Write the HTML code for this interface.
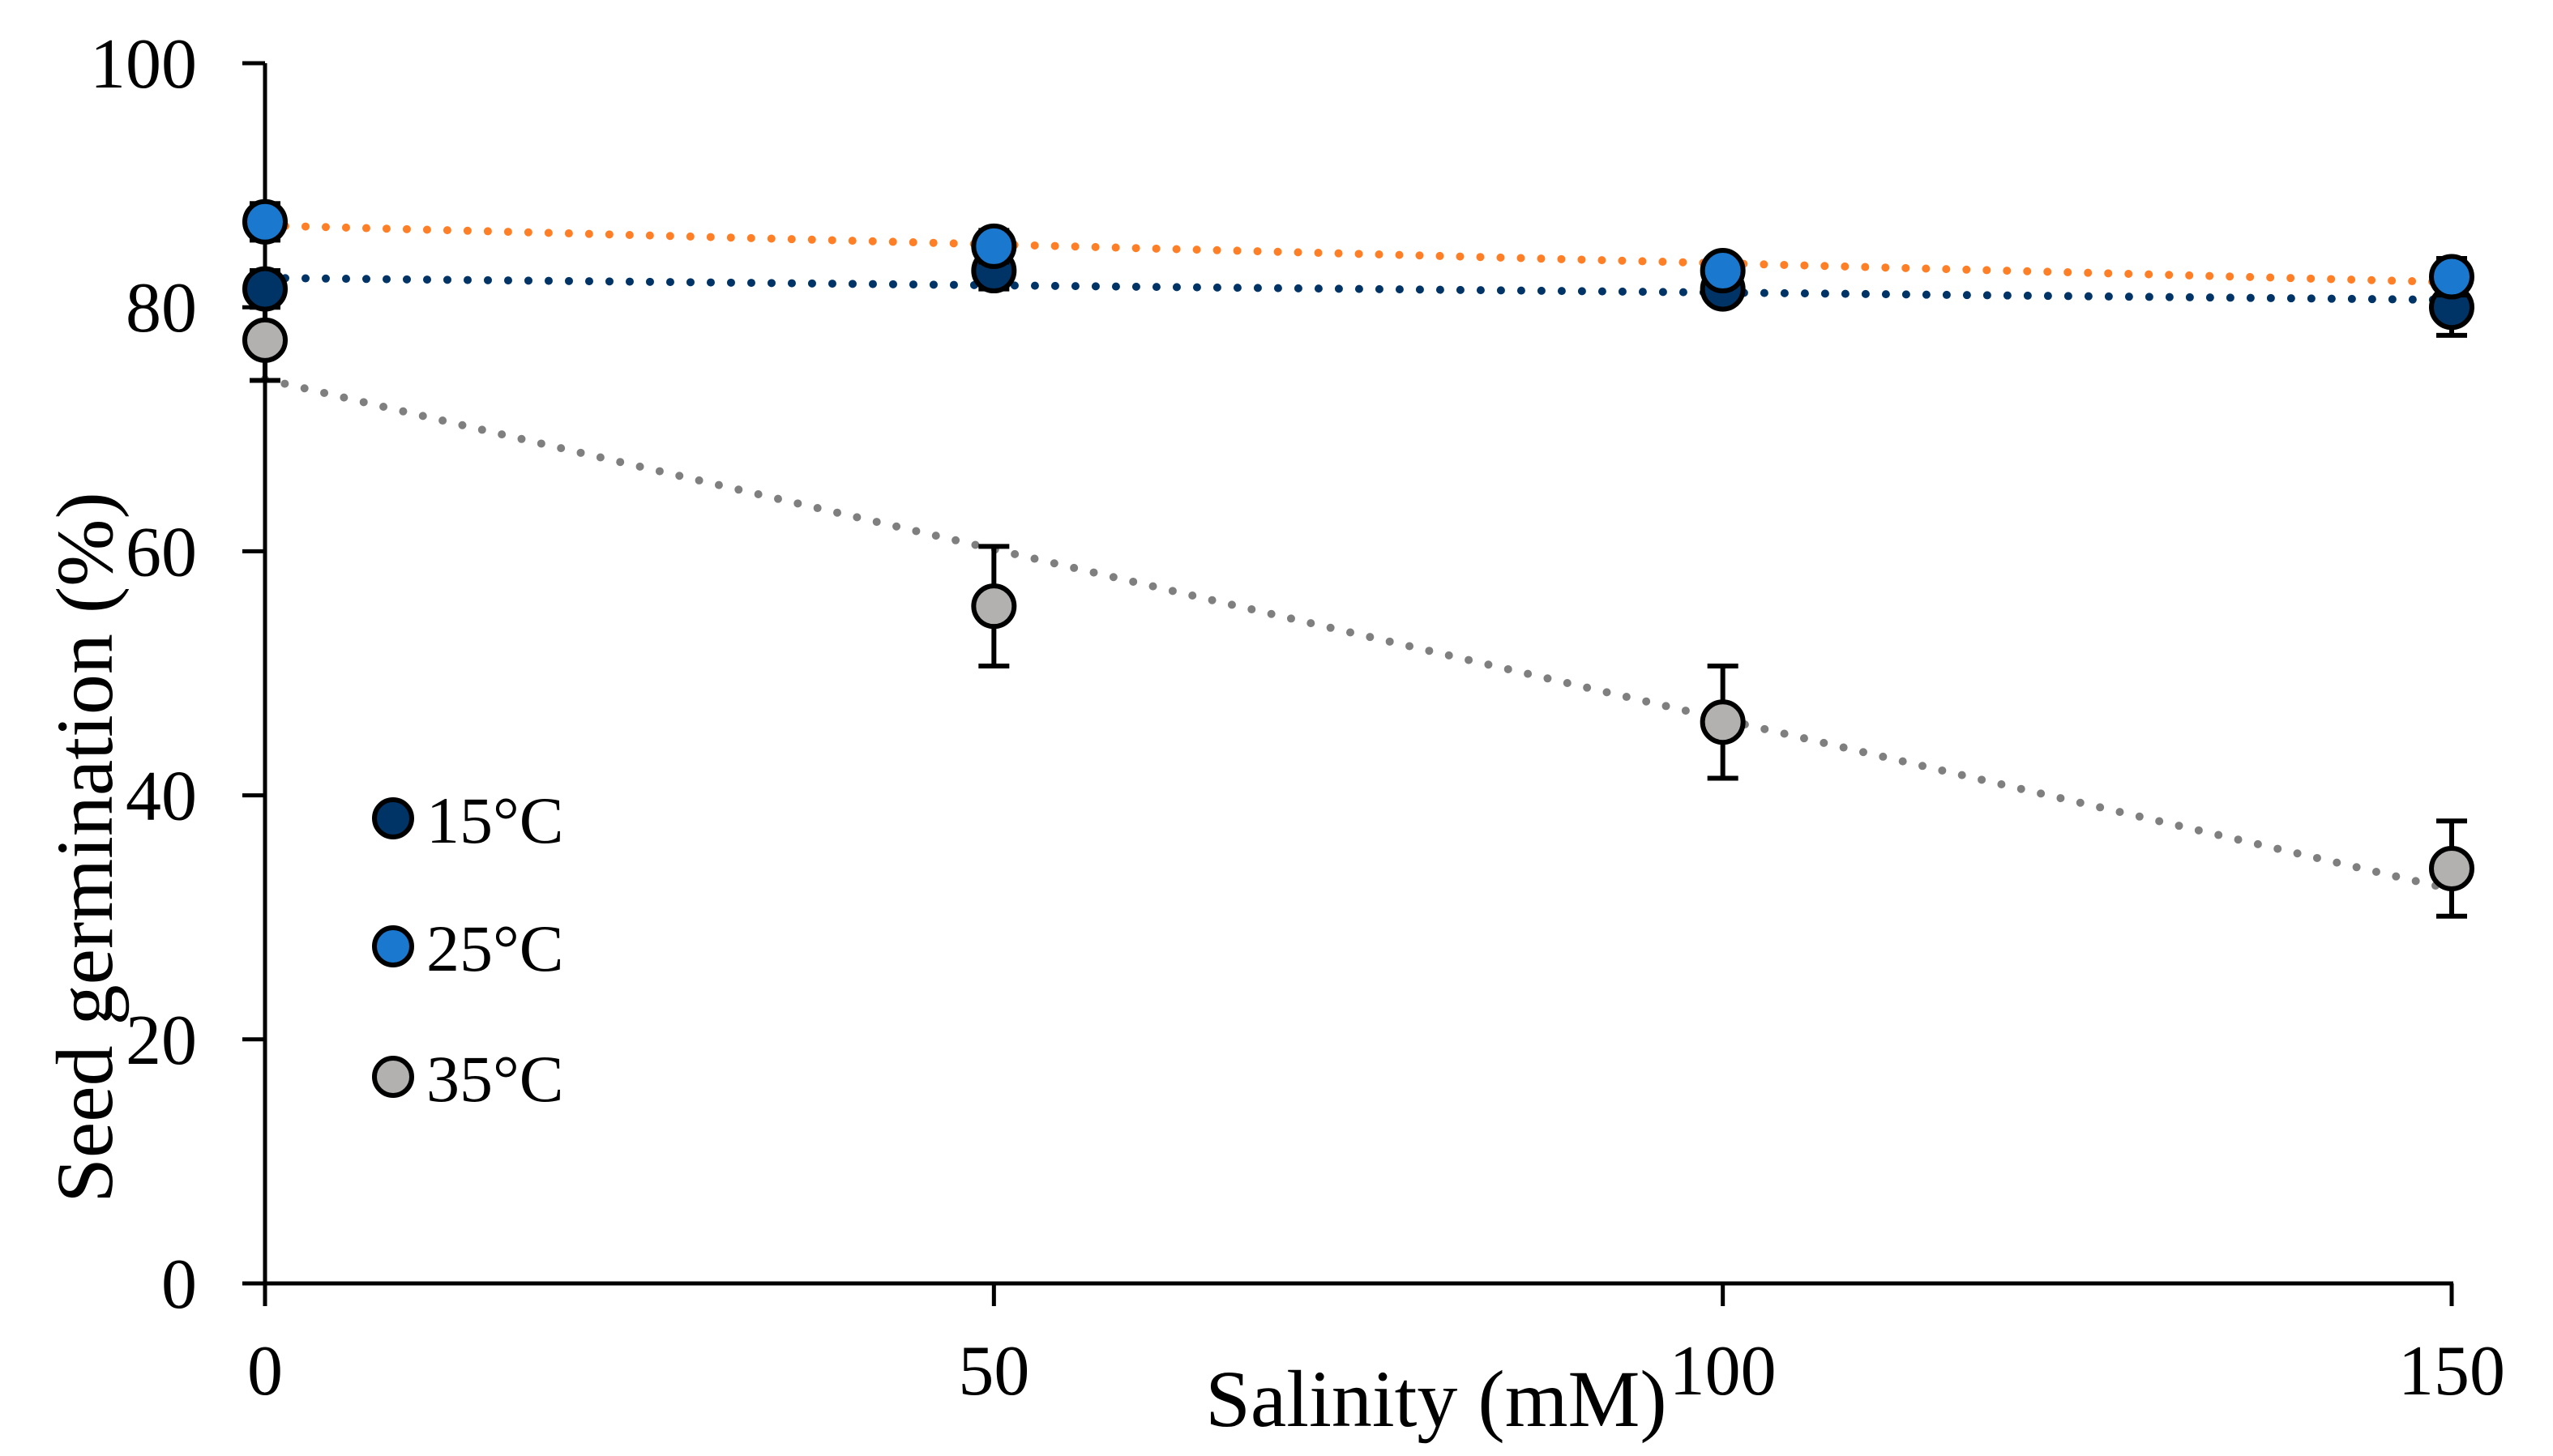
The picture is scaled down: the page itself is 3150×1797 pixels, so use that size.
<!DOCTYPE html>
<html><head><meta charset="utf-8"><style>
html,body{margin:0;padding:0;background:#fff;}
svg{display:block;font-family:"Liberation Serif","Times New Roman",serif;}
</style></head><body>
<svg id="chart" width="3150" height="1797" viewBox="0 0 3150 1797" xmlns="http://www.w3.org/2000/svg">
<g id="trends"></g>
<g id="axes"></g>
<g id="series"></g>
<g id="legend"></g>
</svg>
<script>
const salinity = [0, 50, 100, 150];
const germ15 = [81.5, 83, 81.5, 80];
const err15 = [1.5, 1.5, 1.2, 2.3];
const germ25 = [87, 85, 83, 82.5];
const err25 = [1.5, 1.3, 1.0, 1.5];
const germ35 = [77.3, 55.5, 46, 34];
const err35 = [3.3, 4.9, 4.6, 3.9];
const xTicks = [0, 50, 100, 150];
const yTicks = [0, 20, 40, 60, 80, 100];
const seriesNames = ["15°C", "25°C", "35°C"];

const NS = "http://www.w3.org/2000/svg";
const X0 = 327, X1 = 3025, Y0 = 1584, Y1 = 78;
const xs = v => X0 + (v - 0) / 150 * (X1 - X0);
const ys = v => Y0 - v / 100 * (Y0 - Y1);
function mk(tag, attrs, parent, text) {
  const e = document.createElementNS(NS, tag);
  for (const k in attrs) e.setAttribute(k, attrs[k]);
  if (text !== undefined) e.textContent = text;
  parent.appendChild(e);
  return e;
}
const axes = document.getElementById('axes');
const series = document.getElementById('series');
const trends = document.getElementById('trends');
const legend = document.getElementById('legend');

let e = mk('line', {x1: X0, y1: Y1, x2: X0, y2: Y0, stroke: '#000', 'stroke-width': 5}, axes);


e = mk('line', {x1: X0 - 28, y1: Y0, x2: X1 + 2, y2: Y0, stroke: '#000', 'stroke-width': 5}, axes);


yTicks.forEach(t => {
  const tl = mk('line', {x1: X0 - 28, y1: ys(t), x2: X0, y2: ys(t), stroke: '#000', 'stroke-width': 5}, axes);
  
  
  const lb = mk('text', {x: 243, y: ys(t) + 30, 'text-anchor': 'end', 'font-size': 88}, axes, String(t));
  
  
});
xTicks.forEach(t => {
  const tl = mk('line', {x1: xs(t), y1: Y0, x2: xs(t), y2: Y0 + 28, stroke: '#000', 'stroke-width': 5}, axes);
  
  
  const lb = mk('text', {x: xs(t), y: 1721, 'text-anchor': 'middle', 'font-size': 88}, axes, String(t));
  
  
});
e = mk('text', {x: 1772, y: 1760, 'text-anchor': 'middle', 'font-size': 100}, axes, 'Salinity (mM)');


e = mk('text', {x: 0, y: 0, 'text-anchor': 'middle', 'font-size': 100, transform: 'translate(138,1046) rotate(-90)'}, axes, 'Seed germination (%)');



function regress(ys_) {
  const n = salinity.length;
  const mx = salinity.reduce((a, b) => a + b, 0) / n;
  const my = ys_.reduce((a, b) => a + b, 0) / n;
  let sxy = 0, sxx = 0;
  for (let i = 0; i < n; i++) { sxy += (salinity[i] - mx) * (ys_[i] - my); sxx += (salinity[i] - mx) ** 2; }
  const b = sxy / sxx; return [my - b * mx, b];
}
const specs = [
  {d: germ15, err: err15, fill: '#003366', trend: '#003366', name: '15'},
  {d: germ25, err: err25, fill: '#1a78cf', trend: '#ff7f27', name: '25'},
  {d: germ35, err: err35, fill: '#b3b0b0', trend: '#7f7f7f', name: '35'}
];
specs.forEach(s => {
  const [a, b] = regress(s.d);
  const xa = salinity[0], xb = salinity[salinity.length - 1];
  const t = mk('line', {x1: xs(xa), y1: ys(a + b * xa), x2: xs(xb), y2: ys(a + b * xb), stroke: s.trend, 'stroke-width': 10, 'stroke-linecap': 'round', 'stroke-dasharray': '0 25'}, trends);
  
  
});
[specs[2], specs[0], specs[1]].forEach(s => {
  s.d.forEach((v, i) => {
    const x = xs(salinity[i]);
    const g = mk('g', {}, series);
    
    
    const hi = ys(v + s.err[i]), lo = ys(v - s.err[i]);
    mk('line', {x1: x, y1: hi, x2: x, y2: lo, stroke: '#000', 'stroke-width': 6}, g);
    mk('line', {x1: x - 19, y1: hi, x2: x + 19, y2: hi, stroke: '#000', 'stroke-width': 6}, g);
    mk('line', {x1: x - 19, y1: lo, x2: x + 19, y2: lo, stroke: '#000', 'stroke-width': 6}, g);
    mk('circle', {cx: x, cy: ys(v), r: 25, fill: s.fill, stroke: '#000', 'stroke-width': 6}, g);
  });
});
const legY = [1010, 1168, 1329];
seriesNames.forEach((n, i) => {
  const g = mk('g', {}, legend);
  
  
  mk('circle', {cx: 485, cy: legY[i], r: 23, fill: specs[i].fill, stroke: '#000', 'stroke-width': 6}, g);
  mk('text', {x: 526, y: legY[i] + 30, 'font-size': 82}, g, n);
});
</script>
</body></html>
